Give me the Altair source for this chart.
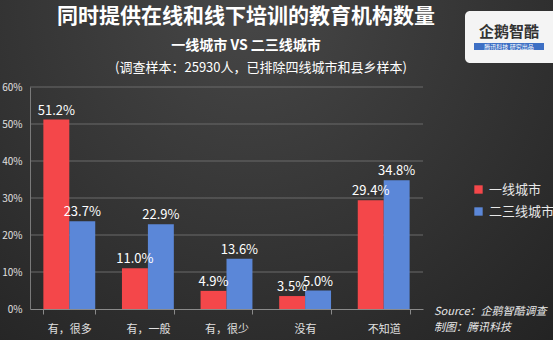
import altair as alt
import pandas as pd

categories = ["有，很多", "有，一般", "有，很少", "没有", "不知道"]
series_names = ["一线城市", "二三线城市"]
tier1 = [51.2, 11.0, 4.9, 3.5, 29.4]
tier23 = [23.7, 22.9, 13.6, 5.0, 34.8]
colors = ["#F4474A", "#5B87D8"]
y_ticks = [0, 0.1, 0.2, 0.3, 0.4, 0.5, 0.6]

rows = []
for c, a, b in zip(categories, tier1, tier23):
    rows.append({"cat": c, "series": series_names[0], "v": a / 100, "lab": f"{a:.1f}%"})
    rows.append({"cat": c, "series": series_names[1], "v": b / 100, "lab": f"{b:.1f}%"})
df = pd.DataFrame(rows)
grid_df = pd.DataFrame({"v": y_ticks[1:]})

FONT = "Noto Sans CJK SC"
W, H = 393, 222

dummy = pd.DataFrame({"k": [0]})

bg = alt.Chart(dummy).mark_rect(
    color=alt.Gradient(
        gradient="radial",
        stops=[alt.GradientStop(color="#474747", offset=0),
               alt.GradientStop(color="#202020", offset=1)],
        x1=0.45, y1=0.2, r1=0, x2=0.45, y2=0.2, r2=0.9,
    ),
    clip=False,
).encode(x=alt.value(-30), x2=alt.value(523), y=alt.value(-87), y2=alt.value(253))

yaxis = alt.Axis(title=None, format=".0%", values=y_ticks, labelColor="#e0e0e0",
                 labelFontSize=10, labelFont=FONT, grid=False, labelOverlap=False,
                 domainColor="#7a7a7a", ticks=False, labelPadding=8, zindex=1)
xaxis = alt.Axis(title=None, labelAngle=0, labelColor="#e0e0e0", labelFontSize=11,
                 labelFont=FONT, domainColor="#8a8a8a", tickColor="#8a8a8a",
                 tickBand="extent", tickSize=5, labelPadding=9, zindex=1)
yscale = alt.Scale(domain=[0, 0.6])
xscale = alt.Scale(paddingInner=0.34, paddingOuter=0.17)

grid = alt.Chart(grid_df).mark_rule(color="#6a6a6a", strokeWidth=1).encode(
    y=alt.Y("v:Q", scale=yscale, axis=yaxis))

xenc = alt.X("cat:N", sort=categories, scale=xscale, axis=xaxis)
yenc = alt.Y("v:Q", scale=yscale, axis=yaxis)

bars = alt.Chart(df).mark_bar().encode(
    x=xenc,
    xOffset=alt.XOffset("series:N", sort=series_names),
    y=yenc,
    color=alt.Color("series:N", sort=series_names,
                    scale=alt.Scale(domain=series_names, range=colors),
                    legend=alt.Legend(title=None, orient="none", legendX=442, legendY=96,
                                      labelColor="#e8e8e8", labelFontSize=13, labelFont=FONT,
                                      symbolType="square", symbolSize=70, symbolStrokeWidth=0,
                                      rowPadding=8, labelOffset=4)),
)

labels = alt.Chart(df).mark_text(dy=-9, fontSize=13, color="#ffffff", font=FONT).encode(
    x=xenc,
    xOffset=alt.XOffset("series:N", sort=series_names),
    y=yenc,
    text="lab:N",
)

titles = pd.DataFrame({
    "t": ["同时提供在线和线下培训的教育机构数量", "一线城市 VS 二三线城市",
          "(调查样本：25930人，已排除四线城市和县乡样本)"],
})
t1 = alt.Chart(titles.iloc[[0]]).mark_text(fontSize=21, fontWeight="bold", color="#ffffff",
                                           font=FONT, clip=False).encode(
    x=alt.value(216), y=alt.value(-70), text="t:N")
t2 = alt.Chart(titles.iloc[[1]]).mark_text(fontSize=14, fontWeight="bold", color="#ffffff",
                                           font=FONT, clip=False).encode(
    x=alt.value(216), y=alt.value(-41), text="t:N")
t3 = alt.Chart(titles.iloc[[2]]).mark_text(fontSize=13, color="#ffffff",
                                           font=FONT, clip=False).encode(
    x=alt.value(231), y=alt.value(-19), text="t:N")

logo_box = alt.Chart(dummy).mark_rect(color="#f4f4f4", cornerRadius=5, clip=False).encode(
    x=alt.value(435), x2=alt.value(528), y=alt.value(-76), y2=alt.value(-24))
logo_txt = alt.Chart(pd.DataFrame({"t": ["企鹅智酷"]})).mark_text(
    fontSize=15, fontWeight="bold", color="#333333", font=FONT, clip=False).encode(
    x=alt.value(479), y=alt.value(-55), text="t:N")
logo_bar = alt.Chart(dummy).mark_rect(color="#3d6fc4", clip=False).encode(
    x=alt.value(444), x2=alt.value(514), y=alt.value(-44), y2=alt.value(-37))
logo_sub = alt.Chart(pd.DataFrame({"t": ["腾讯科技  研究出品"]})).mark_text(
    fontSize=6, color="#ffffff", font=FONT, clip=False).encode(
    x=alt.value(479), y=alt.value(-40.5), text="t:N")

src = pd.DataFrame({"t": ["Source：企鹅智酷调查", "制图：腾讯科技"]})
src1 = alt.Chart(src.iloc[[0]]).mark_text(fontSize=11, fontStyle="italic", color="#e8e8e8",
                                         font=FONT, align="left", clip=False).encode(
    x=alt.value(404), y=alt.value(225), text="t:N")
src2 = alt.Chart(src.iloc[[1]]).mark_text(fontSize=11, fontStyle="italic", color="#e8e8e8",
                                         font=FONT, align="left", clip=False).encode(
    x=alt.value(404), y=alt.value(241), text="t:N")

chart = alt.layer(bg, grid, bars, labels, t1, t2, t3, logo_box, logo_txt, logo_bar, logo_sub,
                  src1, src2).properties(
    width=W, height=H,
    autosize=alt.AutoSizeParams(type="none"),
    padding={"left": 30, "top": 87, "right": 130, "bottom": 31},
    background="#2b2b2b",
).configure_view(stroke=None).configure_axis(labelFont=FONT)

chart.save("out.html", embed_options={"renderer": "svg", "actions": False})
